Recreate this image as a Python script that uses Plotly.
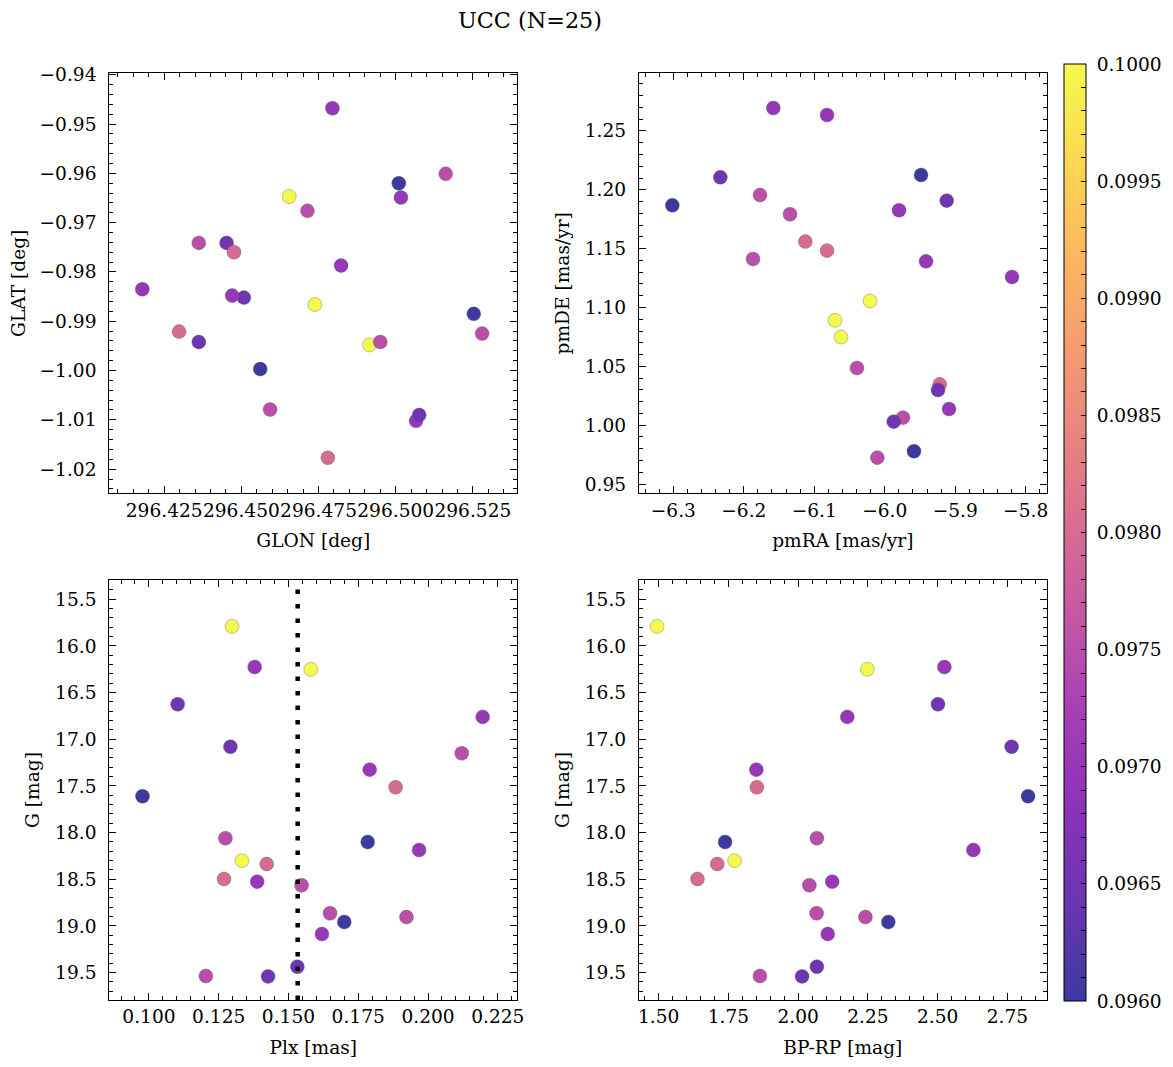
import plotly.graph_objects as go
from plotly.subplots import make_subplots

# ---------------- data ----------------
star_value = [0.1000, 0.0970, 0.1000, 0.0965, 0.0970, 0.0965, 0.0975, 0.0970, 0.0980, 0.0960,
              0.0975, 0.0960, 0.0970, 0.1000, 0.0980, 0.0980, 0.0970, 0.0975, 0.0975, 0.0975,
              0.0960, 0.0970, 0.0965, 0.0975, 0.0965]
glon = [296.4655, 296.4795, 296.4738, 296.4452, 296.4179, 296.4508, 296.5162, 296.5017, 296.4476, 296.5010,
        296.4714, 296.5253, 296.4823, 296.4915, 296.4298, 296.4780, 296.4470, 296.4362, 296.4950, 296.5280,
        296.4561, 296.5066, 296.4362, 296.4593, 296.5076]
glat = [-0.9647, -0.9468, -0.9866, -0.9741, -0.9835, -0.9852, -0.9601, -0.9649, -0.9760, -0.9620,
        -0.9676, -0.9885, -0.9787, -0.9948, -0.9921, -1.0177, -0.9848, -0.9741, -0.9942, -0.9925,
        -0.9997, -1.0102, -0.9942, -1.0079, -1.0090]
pmra = [-6.0209, -6.1581, -6.0621, -6.2333, -6.0819, -5.9121, -6.1770, -5.9797, -6.1127, -6.3014,
        -6.1344, -5.9485, -5.9414, -6.0706, -6.0819, -5.9220, -5.8194, -6.1869, -5.9741, -6.0105,
        -5.9585, -5.9088, -5.9244, -6.0394, -5.9873]
pmde = [1.1055, 1.2695, 1.0749, 1.2106, 1.2636, 1.1908, 1.1956, 1.1826, 1.1560, 1.1868,
        1.1792, 1.2126, 1.1392, 1.0891, 1.1483, 1.0347, 1.1259, 1.1412, 1.0064, 0.9724,
        0.9778, 1.0137, 1.0299, 1.0486, 1.0030]
plx = [0.1298, 0.1379, 0.1580, 0.1103, 0.2196, 0.1292, 0.2121, 0.1791, 0.1884, 0.0977,
       0.1274, 0.1784, 0.1968, 0.1333, 0.1422, 0.1269, 0.1388, 0.1547, 0.1649, 0.1923,
       0.1700, 0.1620, 0.1532, 0.1204, 0.1427]
gmag = [15.79, 16.225, 16.25, 16.625, 16.76, 17.08, 17.15, 17.325, 17.514, 17.61,
        18.06, 18.10, 18.186, 18.30, 18.336, 18.496, 18.525, 18.564, 18.864, 18.904,
        18.957, 19.086, 19.436, 19.536, 19.54]
bprp = [1.494, 2.524, 2.248, 2.501, 2.176, 2.765, None, 1.850, 1.852, 2.824,
        2.067, 1.738, 2.628, 1.772, 1.710, 1.639, 2.122, 2.040, 2.066, 2.241,
        2.323, 2.106, 2.067, 1.863, 2.014]
plx_median = 0.1533
title_text = "UCC (N=25)"

# ---------------- style ----------------
OFF = 8                      # default page margin of the html body
W, H = 1173 - OFF, 1067 - OFF
FONT = "DejaVu Serif"
FS = 18.6
FS_TITLE = 22.3


def px(v):
    return (v - OFF) / W


def py(v):
    return 1 - (v - OFF) / H


plasma = ["#0d0887", "#41049d", "#6a00a8", "#8f0da4", "#b12a90", "#cc4778",
          "#e16462", "#f2844b", "#fca636", "#fcce25", "#f0f921"]


def fade(hexc, a=0.8):
    r, g, b = int(hexc[1:3], 16), int(hexc[3:5], 16), int(hexc[5:7], 16)
    f = lambda c: int(round(a * c + (1 - a) * 255))
    return f"rgb({f(r)},{f(g)},{f(b)})"


cscale = [[i / (len(plasma) - 1), fade(c)] for i, c in enumerate(plasma)]

fig = make_subplots(rows=2, cols=2)

panels = [
    (1, 1, glon, glat),
    (1, 2, pmra, pmde),
    (2, 1, plx, gmag),
    (2, 2, bprp, gmag),
]
for k, (r, c, xs, ys) in enumerate(panels):
    fig.add_trace(go.Scatter(
        x=xs, y=ys, mode="markers",
        marker=dict(size=14, color=star_value, colorscale=cscale, cmin=0.096, cmax=0.1,
                    line=dict(width=0.6, color="rgba(90,90,90,0.6)"),
                    showscale=(k == 0),
                    colorbar=dict(x=px(1064), xanchor="left", y=py(64), yanchor="top",
                                  len=936.7 / H, lenmode="fraction", thickness=22,
                                  outlinewidth=1, outlinecolor="black",
                                  tick0=0.096, dtick=0.0001, ticklabelstep=5,
                                  ticks="inside", ticklen=5, tickcolor="black",
                                  tickformat=".4f", tickprefix="\u00a0", xpad=0, ypad=0,
                                  tickfont=dict(family=FONT, size=FS, color="black"))),
        showlegend=False, hoverinfo="skip"), row=r, col=c)

# domains (pixel geometry of the reference)
xd_left = [px(109.3), px(517.3)]
xd_right = [px(639.0), px(1046.7)]
yd_top = [py(493.3), py(73.3)]
yd_bot = [py(1000.0), py(580.0)]

common = dict(showline=True, linecolor="black", linewidth=1.2, mirror="allticks",
              ticks="inside", ticklen=7, tickwidth=1, tickcolor="black",
              showgrid=False, zeroline=False, automargin=False, tickangle=0,
              tickfont=dict(family=FONT, size=FS, color="black"),
              title_font=dict(family=FONT, size=FS, color="black"))


def minor(d):
    return dict(ticks="inside", ticklen=4, tickwidth=1, tickcolor="black", dtick=d, showgrid=False)


fig.update_xaxes(**common)
fig.update_yaxes(**common)

XST, YST = 14, 10
fig.update_layout(
    xaxis=dict(domain=xd_left, range=[296.4072, 296.5394], tick0=296.425, dtick=0.025,
               tickformat=".3f", minor=minor(0.005), title=dict(text="GLON [deg]", standoff=XST)),
    yaxis=dict(domain=yd_top, range=[-1.0249, -0.9397], tick0=-1.0, dtick=0.01,
               tickformat=".2f", minor=minor(0.002), ticklabelstandoff=8,
               title=dict(text="GLAT [deg]", standoff=YST)),
    xaxis2=dict(domain=xd_right, range=[-6.3487, -5.7702], tick0=-6.3, dtick=0.1,
                tickformat=".1f", minor=minor(0.02), title=dict(text="pmRA [mas/yr]", standoff=XST)),
    yaxis2=dict(domain=yd_top, range=[0.9421, 1.299], tick0=0.95, dtick=0.05,
                tickformat=".2f", minor=minor(0.01), ticklabelstandoff=8,
                title=dict(text="pmDE [mas/yr]", standoff=YST)),
    xaxis3=dict(domain=xd_left, range=[0.0858, 0.2320], tick0=0.1, dtick=0.025,
                tickformat=".3f", minor=minor(0.005), title=dict(text="Plx [mas]", standoff=XST)),
    yaxis3=dict(domain=yd_bot, range=[19.793, 15.293], tick0=15.5, dtick=0.5,
                tickformat=".1f", minor=minor(0.1), ticklabelstandoff=8,
                title=dict(text="G [mag]", standoff=YST)),
    xaxis4=dict(domain=xd_right, range=[1.4295, 2.8907], tick0=1.5, dtick=0.25,
                tickformat=".2f", minor=minor(0.05), title=dict(text="BP-RP [mag]", standoff=XST)),
    yaxis4=dict(domain=yd_bot, range=[19.793, 15.293], tick0=15.5, dtick=0.5,
                tickformat=".1f", minor=minor(0.1), ticklabelstandoff=8,
                title=dict(text="G [mag]", standoff=YST)),
)

# dotted vertical line at the median parallax
fig.add_shape(type="line", xref="x3", yref="y3 domain", x0=plx_median, x1=plx_median,
              y0=0, y1=1, line=dict(color="black", width=4.5, dash="4.5px,10px"))

fig.add_annotation(text=title_text, xref="paper", yref="paper", x=px(530), y=py(20),
                   xanchor="center", yanchor="middle", showarrow=False,
                   font=dict(family=FONT, size=FS_TITLE, color="black"))

fig.update_layout(width=W, height=H, margin=dict(l=0, r=0, t=0, b=0),
                  paper_bgcolor="white", plot_bgcolor="white",
                  font=dict(family=FONT, size=FS, color="black"))

fig.write_html("out.html")
